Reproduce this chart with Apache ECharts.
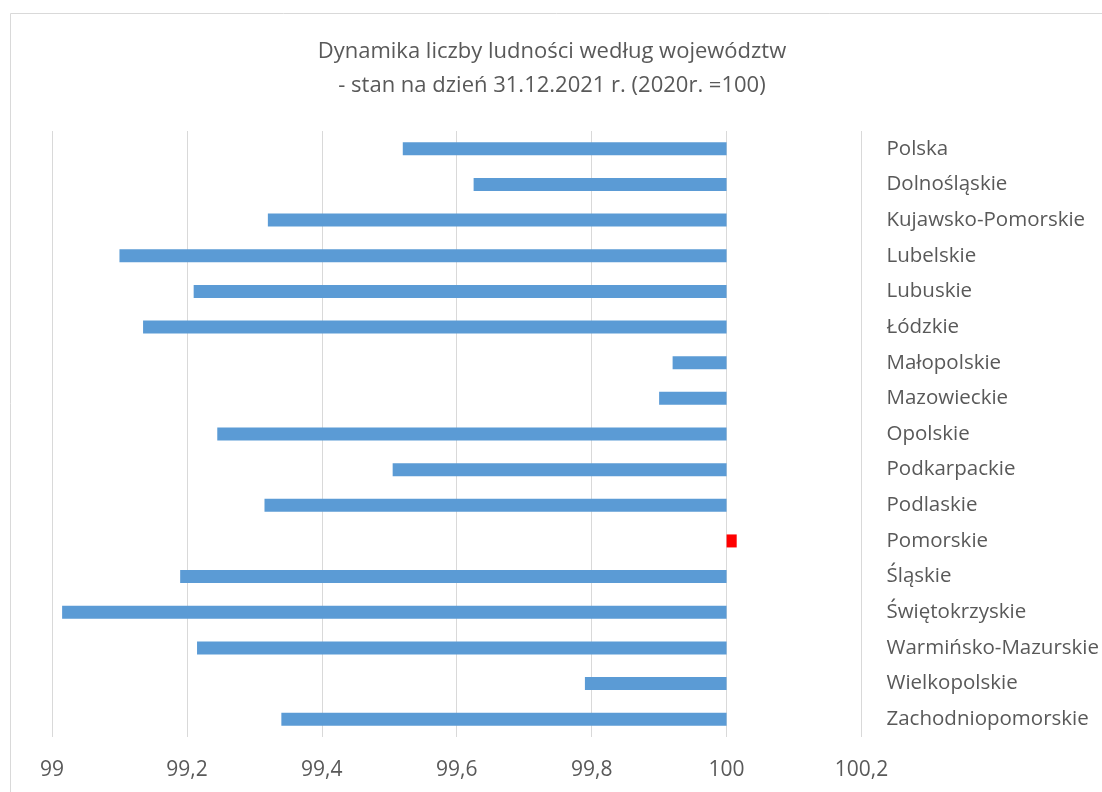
<!DOCTYPE html>
<html>
<head>
<meta charset="utf-8">
<script src="https://cdn.jsdelivr.net/npm/echarts@6/dist/echarts.min.js"></script>
<style>
  html, body { margin: 0; padding: 0; background: #fff; }
  #chart { width: 1102px; height: 792px; }
</style>
</head>
<body>
<div id="chart"></div>
<script>
"use strict";

// wojewodztwa (od gory)
var regions = [
  "Polska", "Dolnośląskie", "Kujawsko-Pomorskie", "Lubelskie", "Lubuskie",
  "Łódzkie", "Małopolskie", "Mazowieckie", "Opolskie", "Podkarpackie",
  "Podlaskie", "Pomorskie", "Śląskie", "Świętokrzyskie",
  "Warmińsko-Mazurskie", "Wielkopolskie", "Zachodniopomorskie"
];

// dynamika 2020r. = 100
var dynamics = [
  99.52, 99.625, 99.32, 99.10, 99.21,
  99.135, 99.92, 99.90, 99.245, 99.505,
  99.315, 100.015, 99.19, 99.015,
  99.215, 99.79, 99.34
];

var base = 100;
var axisTicks = [99, 99.2, 99.4, 99.6, 99.8, 100, 100.2];

var chartDom = document.getElementById("chart");
var myChart = echarts.init(chartDom);

// bars drawn from 100 -> offset values
var barData = dynamics.map(function (v) {
  return {
    value: +(v - base).toFixed(4),
    itemStyle: { color: v > base ? "#ff0000" : "#5b9bd5" }
  };
});

var option = {
  animation: false,
  textStyle: { fontFamily: "Open Sans" },
  graphic: [
    {
      type: "rect",
      shape: { x: 10.5, y: 13.5, width: 1100, height: 800 },
      style: { fill: "none", stroke: "#d9d9d9", lineWidth: 1 },
      silent: true
    }
  ],
  title: {
    text: "Dynamika liczby ludności według województw\n- stan na dzień 31.12.2021 r. (2020r. =100)",
    left: 547,
    textAlign: "center",
    top: 30,
    textStyle: {
      fontSize: 22,
      fontWeight: "normal",
      color: "#595959",
      lineHeight: 34,
      fontFamily: "Open Sans"
    }
  },
  grid: {
    left: 52,
    right: 240,
    top: 131,
    bottom: 55,
    containLabel: false
  },
  xAxis: {
    type: "value",
    min: axisTicks[0] - base,
    max: axisTicks[axisTicks.length - 1] - base,
    interval: 0.2,
    axisLine: { show: false },
    axisTick: { show: false },
    splitLine: { show: true, lineStyle: { color: "#d9d9d9", width: 1 } },
    axisLabel: {
      margin: 23,
      fontSize: 21,
      color: "#595959",
      formatter: function (v) {
        var s = +(v + base).toFixed(2);
        return String(s).replace(".", ",");
      }
    }
  },
  yAxis: {
    type: "category",
    inverse: true,
    position: "right",
    data: regions,
    axisLine: { show: false },
    axisTick: { show: false },
    axisLabel: {
      margin: 25,
      fontSize: 20.5,
      color: "#595959",
      align: "left",
      padding: [6, 0, 0, 0]
    }
  },
  series: [
    {
      type: "bar",
      barWidth: 13,
      data: barData
    }
  ]
};

option && myChart.setOption(option);
</script>
</body>
</html>
